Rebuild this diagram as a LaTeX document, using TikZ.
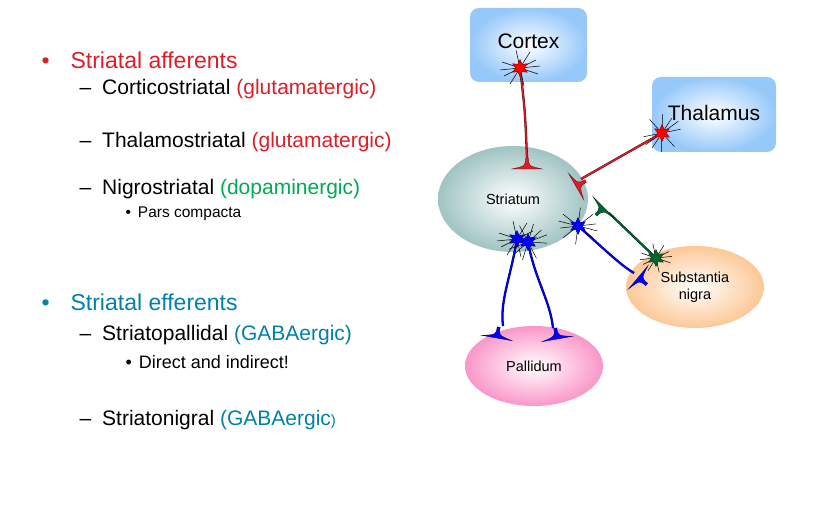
\documentclass[tikz,border=0pt]{standalone}
\usepackage{fontspec}
\setmainfont{Liberation Sans}
\usetikzlibrary{shapes.geometric}
\definecolor{cred}{RGB}{220,30,40}
\definecolor{cgreen}{RGB}{0,170,80}
\definecolor{cteal}{RGB}{0,128,170}
\definecolor{cblue}{RGB}{150,200,250}
\definecolor{cstr}{RGB}{160,195,195}
\definecolor{cpal}{RGB}{250,150,200}
\definecolor{csn}{RGB}{252,200,150}
\begin{document}
\begin{tikzpicture}[x=1pt,y=-1pt,
  box/.style={rounded corners=9pt,inner color=white,outer color=cblue,draw=none,minimum width=117pt,minimum height=74pt,font=\fontsize{21}{24}\selectfont},
  reg/.style={ellipse,draw=none,font=\fontsize{14.5}{17}\selectfont,align=center},
  lvl1/.style={anchor=west,font=\fontsize{23}{26}\selectfont},
  lvl2/.style={anchor=west,font=\fontsize{21}{24}\selectfont},
  lvl3/.style={anchor=west,font=\fontsize{15.5}{18}\selectfont},
  axon/.style={double=#1,double distance=1.3pt,draw=black!60!#1,line width=0.5pt},
  term/.pic={\fill[#1,draw=black!50!#1,line width=0.4pt] (-1.5,-10) .. controls (-1.5,-2) .. (-15,1) -- (15,1) .. controls (1.5,-2) .. (1.5,-10) -- cycle;},
  soma/.pic={\draw[black,line width=0.5pt] (-18,-6)--(18,6) (-16,8)--(16,-8) (-4,-18)--(4,18) (-20,2)--(20,-2) (10,-16)--(-10,16);
    \node[star,star points=6,star point ratio=2,fill=#1,draw=black!50!#1,inner sep=0pt,minimum size=17pt] {};}
]
\useasboundingbox (0,0) rectangle (823,508);
% text
\node[lvl1,text=cred] (b1) at (38,60) {•\hspace{21pt}Striatal afferents};
\node[lvl2] (t1) at (76,89) {–\hspace{11pt}Corticostriatal \textcolor{cred}{(glutamatergic)}};
\node[lvl2] (t2) at (76,142) {–\hspace{11pt}Thalamostriatal \textcolor{cred}{(glutamatergic)}};
\node[lvl2] (t3) at (76,189) {–\hspace{11pt}Nigrostriatal \textcolor{cgreen}{(dopaminergic)}};
\node[lvl3] (t4) at (122,214) {•\hspace{7pt}Pars compacta};
\node[lvl1,text=cteal] (b2) at (38,302) {•\hspace{21pt}Striatal efferents};
\node[lvl2] (t5) at (76,335) {–\hspace{11pt}Striatopallidal \textcolor{cteal}{(GABAergic)}};
\node[lvl3,font=\fontsize{18}{20}\selectfont] (t6) at (122,362) {•\hspace{7pt}Direct and indirect!};
\node[lvl2] (t7) at (76,420) {–\hspace{11pt}Striatonigral \textcolor{cteal}{(GABAergic\fontsize{15}{17}\selectfont)}};
% regions
\node[box] (ctx) at (528.5,45) {\raisebox{8pt}{Cortex}};
\node[box,minimum width=124pt,minimum height=75pt] (thal) at (714,114.5) {\raisebox{3pt}{Thalamus}};
\node[reg,inner color=white,outer color=cstr,minimum width=150pt,minimum height=106pt] (str) at (513,199) {Striatum};
\node[reg,inner color=white,outer color=cpal,minimum width=138pt,minimum height=80pt] (pal) at (534,366) {Pallidum};
\node[reg,inner color=white,outer color=csn,minimum width=138pt,minimum height=82pt] (sn) at (695,287) {Substantia\\nigra};
% neurons
\coordinate (s1) at (520,68);
\coordinate (e1) at (527,158);
\coordinate (s2) at (662,133);
\coordinate (e2) at (581,179);
\coordinate (s3) at (517,239);
\coordinate (s4) at (528,242);
\coordinate (e3) at (503,326);
\coordinate (e4) at (553,328);
\coordinate (s5) at (578,226);
\coordinate (e5) at (634,273);
\coordinate (s6) at (656,258);
\coordinate (e6) at (609,213);
\draw[axon=cred] (s1) .. controls (525,110) .. (e1);
\draw[axon=cred] (s2) -- (e2);
\draw[axon=blue] (s3) .. controls (510,280) and (500,300) .. (e3);
\draw[axon=blue] (s4) .. controls (535,280) and (550,300) .. (e4);
\draw[axon=blue] (s5) .. controls (600,245) and (620,265) .. (e5);
\draw[axon=cgreen!60!black] (s6) -- (e6);
\pic at (527,168) {term=cred};
\pic[rotate=-60] at (577,186) {term=cred};
\pic[rotate=-10] at (497,337) {term=blue};
\pic[rotate=10] at (557,338) {term=blue};
\pic[rotate=-130] at (639,278) {term=blue};
\pic[rotate=135] at (603,208) {term=cgreen!60!black};
\pic at (s1) {soma=red};
\pic[rotate=30] at (s2) {soma=red};
\pic at (s3) {soma=blue};
\pic[rotate=15] at (s4) {soma=blue};
\pic[rotate=-20] at (s5) {soma=blue};
\pic[scale=0.8] at (s6) {soma=cgreen!60!black};
\end{tikzpicture}
\end{document}
